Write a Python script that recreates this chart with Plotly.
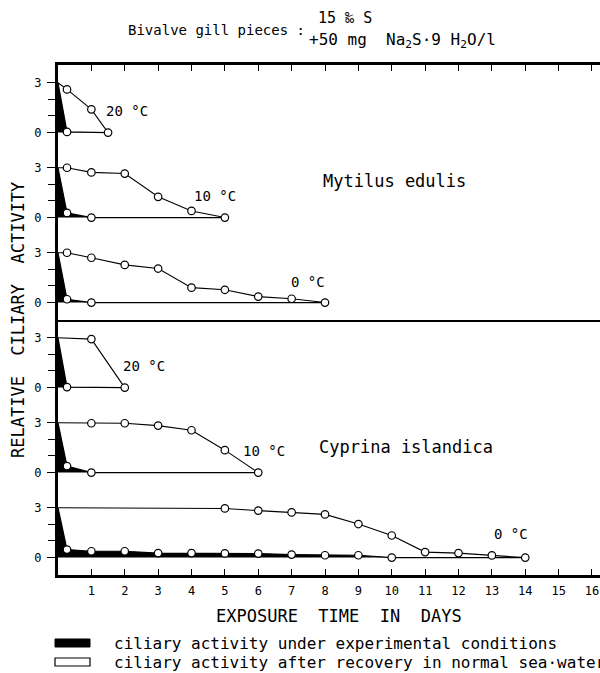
import plotly.graph_objects as go
from plotly.subplots import make_subplots

# ---------------- data ----------------
x_tick_days = list(range(1, 17))
y_tick_vals = [0, 3]
y_minor_vals = [1, 2]

# Mytilus edulis
m20_rec_days = [0, 0.27, 1, 1.5]
m20_rec_vals = [3, 2.6, 1.4, 0]
m20_exp_days = [0, 0.27, 1.5]
m20_exp_vals = [3, 0.04, 0]

m10_rec_days = [0, 0.27, 1, 2, 3, 4, 5]
m10_rec_vals = [3, 3.0, 2.72, 2.65, 1.25, 0.4, 0]
m10_exp_days = [0, 0.27, 1, 5]
m10_exp_vals = [3, 0.28, 0, 0]

m0_rec_days = [0, 0.27, 1, 2, 3, 4, 5, 6, 7, 8]
m0_rec_vals = [3, 3.0, 2.7, 2.27, 2.05, 0.9, 0.77, 0.36, 0.23, 0]
m0_exp_days = [0, 0.27, 1, 8]
m0_exp_vals = [3, 0.2, 0, 0]

# Cyprina islandica
c20_rec_days = [0, 1, 2]
c20_rec_vals = [3, 2.92, 0]
c20_exp_days = [0, 0.27, 2]
c20_exp_vals = [3, 0.03, 0]

c10_rec_days = [0, 1, 2, 3, 4, 5, 6]
c10_rec_vals = [3, 2.97, 2.97, 2.83, 2.55, 1.35, 0]
c10_exp_days = [0, 0.27, 1, 6]
c10_exp_vals = [3, 0.39, 0, 0]

c0_rec_days = [0, 5, 6, 7, 8, 9, 10, 11, 12, 13, 14]
c0_rec_vals = [3, 2.96, 2.83, 2.72, 2.6, 2.02, 1.33, 0.33, 0.27, 0.13, 0]
c0_exp_days = [0, 0.27, 1, 2, 3, 4, 5, 6, 7, 8, 9, 10, 14]
c0_exp_vals = [3, 0.48, 0.38, 0.38, 0.27, 0.27, 0.25, 0.24, 0.18, 0.14, 0.14, 0, 0]

panels = [
    (m20_rec_days, m20_rec_vals, m20_exp_days, m20_exp_vals),
    (m10_rec_days, m10_rec_vals, m10_exp_days, m10_exp_vals),
    (m0_rec_days, m0_rec_vals, m0_exp_days, m0_exp_vals),
    (c20_rec_days, c20_rec_vals, c20_exp_days, c20_exp_vals),
    (c10_rec_days, c10_rec_vals, c10_exp_days, c10_exp_vals),
    (c0_rec_days, c0_rec_vals, c0_exp_days, c0_exp_vals),
]

# panel labels: (row, day, value, text)
temp_labels = [
    (1, 2.08, 1.27, "20 °C"),
    (2, 4.69, 1.27, "10 °C"),
    (3, 7.5, 1.25, "0 °C"),
    (4, 2.58, 1.27, "20 °C"),
    (5, 6.18, 1.27, "10 °C"),
    (6, 13.58, 1.45, "0 °C"),
]
species_labels = [
    (2, 10.07, 2.22, "Mytilus edulis"),
    (5, 10.43, 1.54, "Cyprina islandica"),
]

# ---------------- layout helpers ----------------
W, H = 600, 673
L, R, T, B = 58, 0, 65, 98
FONT = "DejaVu Sans Mono"


def px(x):
    return (x - L) / (W - L - R)


def py(y):
    return 1 - (y - T) / (H - T - B)


fig = make_subplots(rows=6, cols=1, vertical_spacing=0)

for i, (rd, rv, ed, ev) in enumerate(panels):
    row = i + 1
    fig.add_trace(go.Scatter(x=ed, y=ev, mode="lines", fill="tozeroy",
                             fillcolor="black", line=dict(color="black", width=1.2),
                             hoverinfo="skip", showlegend=False), row=row, col=1)
    fig.add_trace(go.Scatter(x=rd, y=rv, mode="lines",
                             line=dict(color="black", width=1.1),
                             hoverinfo="skip", showlegend=False), row=row, col=1)
    fig.add_trace(go.Scatter(x=ed[1:-1], y=ev[1:-1], mode="markers",
                             marker=dict(symbol="circle", size=7.5, color="white",
                                         line=dict(color="black", width=1.2)),
                             hoverinfo="skip", showlegend=False), row=row, col=1)
    fig.add_trace(go.Scatter(x=rd[1:], y=rv[1:], mode="markers",
                             marker=dict(symbol="circle", size=7.5, color="white",
                                         line=dict(color="black", width=1.2)),
                             hoverinfo="skip", showlegend=False), row=row, col=1)

    fig.update_yaxes(range=[-1.05, 4.07], tickvals=y_tick_vals,
                     ticktext=[str(v) for v in y_tick_vals],
                     ticks="outside", ticklen=8, tickwidth=1.3, tickcolor="black",
                     minor=dict(tickvals=y_minor_vals, ticks="outside", ticklen=7,
                                tickwidth=1.3, tickcolor="black"),
                     showline=True, linecolor="black", linewidth=3,
                     showgrid=False, zeroline=False, ticklabelstandoff=3,
                     tickfont=dict(family=FONT, size=12, color="black"),
                     row=row, col=1)
    xa = dict(range=[0, 16.24], showgrid=False, zeroline=False,
              tickvals=x_tick_days, showticklabels=False, ticks="",
              showline=False)
    if row == 1:
        xa.update(side="top", showline=True, linecolor="black", linewidth=3,
                  ticks="inside", ticklen=6, tickwidth=1.3, tickcolor="black")
    elif row == 3:
        xa.update(showline=True, linecolor="black", linewidth=1.5)
    elif row == 6:
        xa.update(showline=True, linecolor="black", linewidth=2.5,
                  ticks="inside", ticklen=6, tickwidth=1.3, tickcolor="black",
                  showticklabels=True, ticklabelstandoff=3,
                  tickfont=dict(family=FONT, size=12, color="black"))
    fig.update_xaxes(row=row, col=1, **xa)

for row, d, v, t in temp_labels:
    fig.add_annotation(x=d, y=v, text=t, showarrow=False, row=row, col=1,
                       xanchor="center", yanchor="middle",
                       font=dict(family=FONT, size=14, color="black"))
for row, d, v, t in species_labels:
    fig.add_annotation(x=d, y=v, text=t, showarrow=False, row=row, col=1,
                       xanchor="center", yanchor="middle",
                       font=dict(family=FONT, size=17, color="black"))


def text_at(x, y, text, size, anchor="center", angle=0, family=FONT):
    fig.add_annotation(x=px(x), y=py(y), xref="paper", yref="paper", showarrow=False,
                       xanchor=anchor, yanchor="middle", textangle=angle, text=text,
                       font=dict(family=family, size=size, color="black"))


text_at(216, 30, "Bivalve gill pieces :", 14)
text_at(316, 18, "15 ‰ S", 15, anchor="left")
text_at(307, 41, "+50 mg  Na<sub>2</sub>S·9 H<sub>2</sub>O/l", 16, anchor="left")
text_at(18, 320, "RELATIVE  CILIARY  ACTIVITY", 17, angle=-90)
text_at(339, 616, "EXPOSURE  TIME  IN  DAYS", 17)
text_at(112, 643, "ciliary activity under experimental conditions", 16, anchor="left")
text_at(112, 662, "ciliary activity after recovery in normal sea·water", 16, anchor="left")

fig.add_shape(type="rect", xref="paper", yref="paper",
              x0=px(55), x1=px(90), y0=py(639), y1=py(647),
              fillcolor="black", line=dict(color="black", width=1))
fig.add_shape(type="rect", xref="paper", yref="paper",
              x0=px(55), x1=px(90), y0=py(658), y1=py(666),
              fillcolor="white", line=dict(color="black", width=1.2))

fig.update_layout(width=W, height=H, margin=dict(l=L, r=R, t=T, b=B),
                  paper_bgcolor="white", plot_bgcolor="white", showlegend=False)

fig.write_html("out.html", config={"displayModeBar": False},
               post_script="document.body.style.margin='0px';document.body.style.overflow='hidden';")
